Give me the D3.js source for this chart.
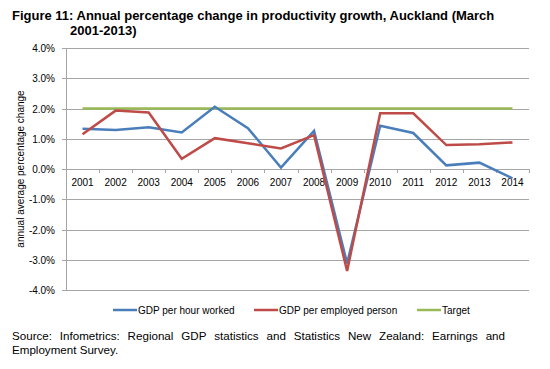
<!DOCTYPE html>
<html><head><meta charset="utf-8">
<script src="https://cdn.jsdelivr.net/npm/d3@7"></script>
<style>body{margin:0;background:#fff}svg{display:block;font-family:Arial,"Liberation Sans",sans-serif}</style>
</head><body>
<svg id="c" width="550" height="369"></svg>
<script>
const years = ["2001","2002","2003","2004","2005","2006","2007","2008","2009","2010","2011","2012","2013","2014"];
const gdpPerHour = [1.33,1.29,1.38,1.21,2.06,1.35,0.05,1.26,-3.12,1.43,1.19,0.12,0.21,-0.31];
const gdpPerPerson = [1.15,1.93,1.87,0.34,1.02,0.85,0.68,1.12,-3.37,1.84,1.84,0.79,0.82,0.88];
const target = [2,2,2,2,2,2,2,2,2,2,2,2,2,2];
const yTicks = [-4,-3,-2,-1,0,1,2,3,4];
const seriesNames = ["GDP per hour worked","GDP per employed person","Target"];
const colors = ["#4a7ebb","#be4b48","#98b954"];

const svg = d3.select("#c");
const L=66, R=529, T=48, B=290;
const x = d3.scaleBand().domain(years).range([L,R]);
const y = d3.scaleLinear().domain([-4,4]).range([B,T]);

// title
svg.append("text").attr("x",12).attr("y",20).attr("font-size",13).attr("font-weight","bold").attr("fill","#000")
  .text("Figure 11: Annual percentage change in productivity growth, Auckland (March");
svg.append("text").attr("x",70).attr("y",35).attr("font-size",13).attr("font-weight","bold").attr("fill","#000")
  .text("2001-2013)");

// gridlines
svg.append("g").selectAll("line").data(yTicks).join("line")
  .attr("x1",L).attr("x2",R).attr("y1",d=>Math.round(y(d))+0.5).attr("y2",d=>Math.round(y(d))+0.5)
  .attr("stroke","#a6a6a6").attr("stroke-width",1);
svg.append("line").attr("x1",L+0.5).attr("x2",L+0.5).attr("y1",T).attr("y2",B+0.5).attr("stroke","#a6a6a6");
svg.append("g").selectAll("line").data(yTicks).join("line")
  .attr("x1",L-4).attr("x2",L).attr("y1",d=>Math.round(y(d))+0.5).attr("y2",d=>Math.round(y(d))+0.5).attr("stroke","#a6a6a6");
svg.append("g").selectAll("text").data(yTicks).join("text")
  .attr("x",55).attr("y",d=>y(d)+4).attr("text-anchor","end").attr("font-size",10).attr("fill","#000")
  .text(d=>d.toFixed(1)+"%");
const bounds = years.map(d=>x(d)).concat([R]);
svg.append("g").selectAll("line").data(bounds.slice(1)).join("line")
  .attr("x1",d=>Math.round(d)+0.5).attr("x2",d=>Math.round(d)+0.5).attr("y1",y(0)).attr("y2",y(0)+4).attr("stroke","#a6a6a6");
svg.append("g").selectAll("text").data(years).join("text")
  .attr("x",d=>x(d)+x.bandwidth()/2).attr("y",y(0)+17).attr("text-anchor","middle").attr("font-size",10).attr("fill","#000")
  .text(d=>d);

svg.append("text").attr("transform","translate(24,169) rotate(-90)").attr("text-anchor","middle")
  .attr("font-size",10).attr("fill","#000").text("annual average percentage change");

const line = d3.line().x((d,i)=>x(years[i])+x.bandwidth()/2).y(d=>y(d));
svg.append("path").datum(target).attr("d",line).attr("fill","none").attr("stroke",colors[2]).attr("stroke-width",2.5);
svg.append("path").datum(gdpPerHour).attr("d",line).attr("fill","none").attr("stroke",colors[0]).attr("stroke-width",2.5);
svg.append("path").datum(gdpPerPerson).attr("d",line).attr("fill","none").attr("stroke",colors[1]).attr("stroke-width",2.5);

const legX=[113,254,417];
seriesNames.forEach((n,i)=>{
  svg.append("line").attr("x1",legX[i]).attr("x2",legX[i]+24).attr("y1",310).attr("y2",310).attr("stroke",colors[i]).attr("stroke-width",2.5);
  svg.append("text").attr("x",legX[i]+25).attr("y",313.5).attr("font-size",10).attr("fill","#000").text(n);
});

const src1 = "Source: Infometrics: Regional GDP statistics and Statistics New Zealand: Earnings and".split(" ");
const g = svg.append("g").attr("font-size",11.6).attr("fill","#000");
const ws = src1.map(w=>g.append("text").attr("y",340).text(w));
const widths = ws.map(t=>t.node().getComputedTextLength());
const gap = (505-12-d3.sum(widths))/(src1.length-1);
let cx=12;
ws.forEach((t,i)=>{t.attr("x",cx); cx+=widths[i]+gap;});
g.append("text").attr("x",12).attr("y",354).text("Employment Survey.");
</script>
</body></html>
